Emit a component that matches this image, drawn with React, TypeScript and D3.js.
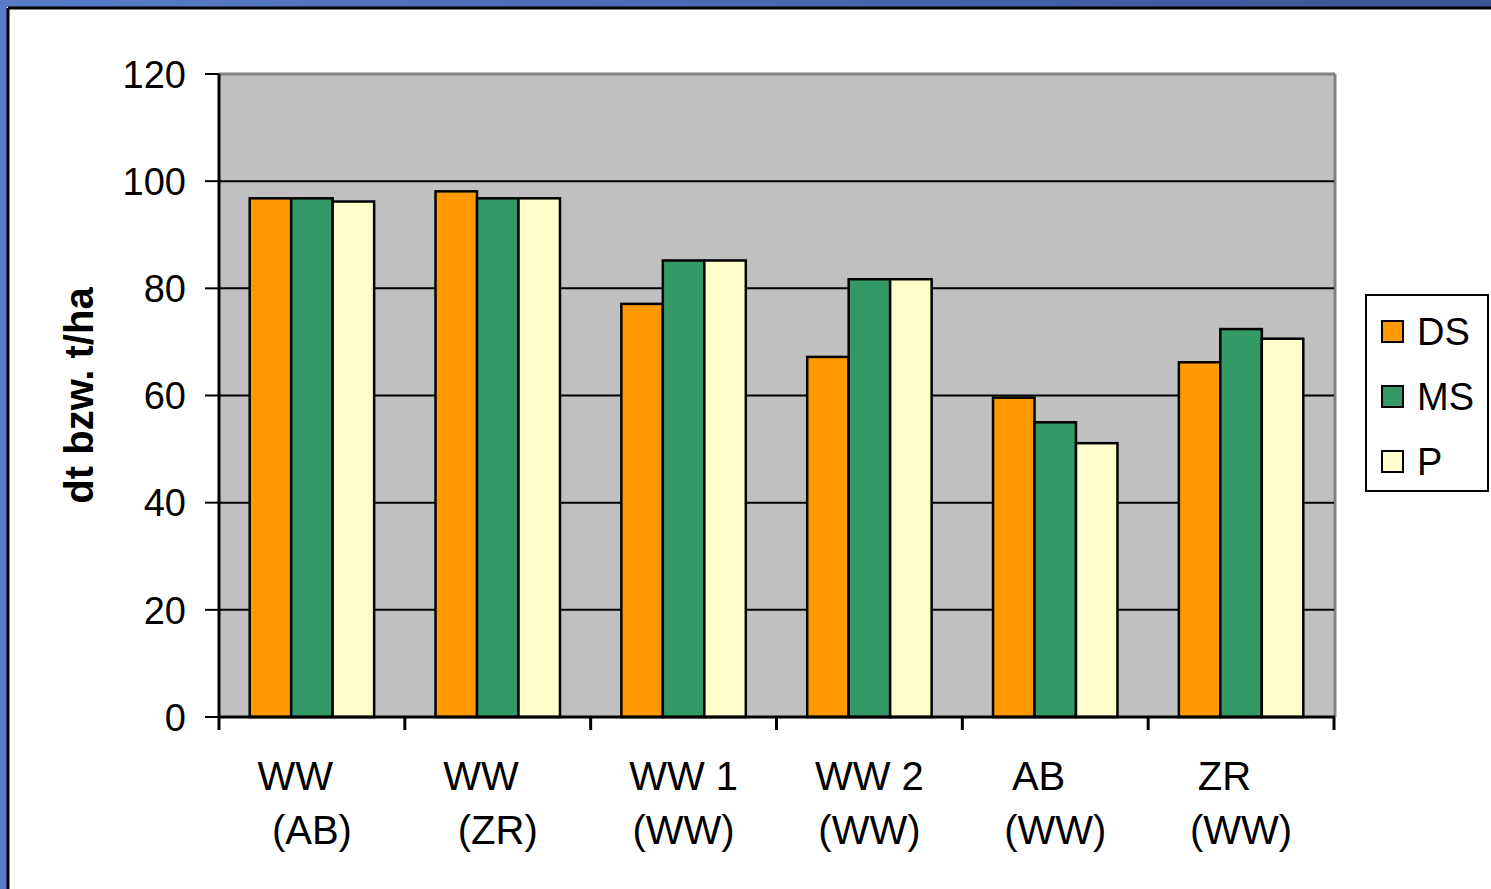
import React, { useEffect } from "react";
import * as d3 from "d3";

const categories = ["WW (AB)", "WW (ZR)", "WW 1 (WW)", "WW 2 (WW)", "AB (WW)", "ZR (WW)"];
const labelLines = [
  ["WW   ", "(AB)"],
  ["WW   ", "(ZR)"],
  ["WW 1", "(WW)"],
  ["WW 2", "(WW)"],
  ["AB   ", "(WW)"],
  ["ZR   ", "(WW)"],
];
const seriesNames = ["DS", "MS", "P"];
const dsValues = [96.8, 98.1, 77.1, 67.2, 59.6, 66.2];
const msValues = [96.8, 96.8, 85.2, 81.7, 55.0, 72.4];
const pValues = [96.2, 96.8, 85.2, 81.7, 51.1, 70.6];
const yTicks = [0, 20, 40, 60, 80, 100, 120];
const colors = ["#FF9900", "#339966", "#FFFFCC"];

const W = 1491;
const H = 889;
const plot = { left: 219, right: 1334, top: 74, bottom: 717 };

export default function App() {
  useEffect(() => {
    document.body.style.margin = "0";
  }, []);

  const series = [dsValues, msValues, pValues];

  const x = d3.scaleBand().domain(categories).range([plot.left, plot.right]).paddingInner(0).paddingOuter(0);
  const xInner = d3
    .scaleBand()
    .domain(seriesNames)
    .range([0, x.bandwidth()])
    .paddingOuter(0.74)
    .paddingInner(0);
  const y = d3.scaleLinear().domain([0, 120]).range([plot.bottom, plot.top]);

  const font = "Arial, 'Liberation Sans', sans-serif";
  const tickEdges = categories.map((c) => x(c)!).concat([plot.right]);

  return (
    <svg width={W} height={H} style={{ display: "block" }} fontFamily={font}>
      <defs>
        <linearGradient id="frameGrad" x1="0" x2="1" y1="0" y2="0">
          <stop offset="0" stopColor="#5A7CC8" />
          <stop offset="1" stopColor="#3A5494" />
        </linearGradient>
      </defs>
      <rect x={0} y={0} width={W} height={H} fill="#ffffff" />
      {/* frame */}
      <rect x={0} y={0} width={W} height={7} fill="url(#frameGrad)" />
      <rect x={0} y={0} width={7} height={H} fill="#5A7CC8" />
      <line x1={8} y1={8} x2={W} y2={8} stroke="#000" strokeWidth={3} />
      <line x1={8} y1={8} x2={8} y2={H} stroke="#000" strokeWidth={3} />

      {/* plot area */}
      <rect x={plot.left} y={plot.top} width={plot.right - plot.left} height={plot.bottom - plot.top} fill="#C0C0C0" />
      <line x1={plot.left} x2={plot.right + 1} y1={plot.top} y2={plot.top} stroke="#808080" strokeWidth={3} />
      <line x1={plot.right + 1} x2={plot.right + 1} y1={plot.top} y2={plot.bottom} stroke="#808080" strokeWidth={3} />

      {/* gridlines */}
      {yTicks.slice(1, -1).map((t) => (
        <line key={t} x1={plot.left} x2={plot.right} y1={y(t)} y2={y(t)} stroke="#000" strokeWidth={2} />
      ))}

      {/* bars */}
      {categories.map((c, i) => (
        <g key={c} transform={`translate(${x(c)},0)`}>
          {series.map((vals, s) => (
            <rect
              key={s}
              x={xInner(seriesNames[s])}
              y={y(vals[i])}
              width={xInner.bandwidth()}
              height={y(0) - y(vals[i])}
              fill={colors[s]}
              stroke="#000"
              strokeWidth={2.5}
            />
          ))}
        </g>
      ))}

      {/* y axis */}
      <line x1={plot.left} x2={plot.left} y1={plot.top} y2={plot.bottom} stroke="#000" strokeWidth={3} />
      {yTicks.map((t) => (
        <g key={t}>
          <line x1={205} x2={plot.left} y1={y(t)} y2={y(t)} stroke="#000" strokeWidth={2} />
          <text x={186} y={y(t)} dy="0.36em" textAnchor="end" fontSize={38} fill="#000">
            {t}
          </text>
        </g>
      ))}
      <text
        transform={`translate(93,${(plot.top + plot.bottom) / 2}) rotate(-90)`}
        textAnchor="middle"
        fontSize={40}
        fontWeight="bold"
        fill="#000"
      >
        dt bzw. t/ha
      </text>

      {/* x axis */}
      <line x1={plot.left} x2={plot.right + 1} y1={plot.bottom} y2={plot.bottom} stroke="#000" strokeWidth={3} />
      {tickEdges.map((tx, i) => (
        <line key={i} x1={tx} x2={tx} y1={plot.bottom} y2={plot.bottom + 13} stroke="#000" strokeWidth={3} />
      ))}
      {categories.map((c, i) => (
        <text key={c} textAnchor="middle" fontSize={40} fill="#000" style={{ whiteSpace: "pre" }}>
          <tspan x={x(c)! + x.bandwidth() / 2} y={790}>
            {labelLines[i][0]}
          </tspan>
          <tspan x={x(c)! + x.bandwidth() / 2} y={844}>
            {labelLines[i][1]}
          </tspan>
        </text>
      ))}

      {/* legend */}
      <rect x={1366} y={295} width={122} height={196} fill="#fff" stroke="#000" strokeWidth={2} />
      {seriesNames.map((n, i) => (
        <g key={n} transform={`translate(1382,${331 + i * 65})`}>
          <rect x={0} y={-10} width={21} height={21} fill={colors[i]} stroke="#000" strokeWidth={2} />
          <text x={35} y={0} dy="0.36em" fontSize={38} fill="#000">
            {n}
          </text>
        </g>
      ))}
    </svg>
  );
}
